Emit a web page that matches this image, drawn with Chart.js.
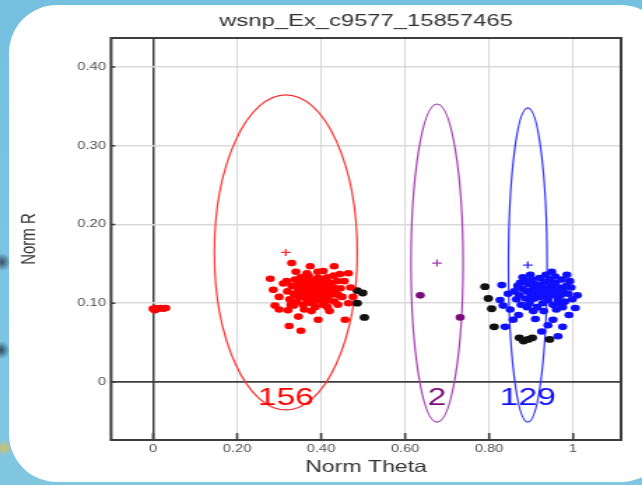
<!DOCTYPE html>
<html>
<head>
<meta charset="utf-8">
<title>wsnp_Ex_c9577_15857465</title>
<script src="https://cdn.jsdelivr.net/npm/chart.js@4.4.1/dist/chart.umd.min.js"></script>
<style>
    html, body { margin: 0; padding: 0; }
    body {
        width: 642px;
        height: 485px;
        overflow: hidden;
        position: relative;
        background:
            radial-gradient(circle at 2px 262px, #3b4f66 0, rgba(59,79,102,0) 9px),
            radial-gradient(circle at 1px 350px, #2f4a5e 0, rgba(47,74,94,0) 9px),
            radial-gradient(circle at 4px 448px, #d8c060 0, rgba(216,192,96,0) 8px),
            linear-gradient(180deg, #74c0de 0%, #7cc5e2 60%, #80c6e0 100%);
    }
    .panel {
        position: absolute;
        left: 9px;
        top: 5px;
        width: 660px;
        height: 477px;
        background: #fff;
        border-radius: 48px;
    }
    /* the picture is stretched sideways, so draw narrow and scale */
    .stretch {
        position: absolute;
        left: 0;
        top: 0;
        width: 459px;
        height: 485px;
        transform: scaleX(1.3987);
        transform-origin: 0 0;
    }
</style>
</head>
<body>
<div class="panel"></div>
<div class="stretch"><canvas id="gtPlot"></canvas></div>
<script>
// labels
const chartTitle = "wsnp_Ex_c9577_15857465";
const xTitle = "Norm Theta";
const yTitle = "Norm R";
const xTickValues = [0, 0.2, 0.4, 0.6, 0.8, 1];
const xTickLabels = ["0", "0.20", "0.40", "0.60", "0.80", "1"];
const yTickValues = [0, 0.1, 0.2, 0.3, 0.4];
const yTickLabels = ["0", "0.10", "0.20", "0.30", "0.40"];
const xRange = [-0.1, 1.114];
const yRange = [-0.0737, 0.4368];

// genotype clusters (AA, AB, BB)
const clusterCounts = ["156", "2", "129"];
const clusterMeanTheta = [0.316, 0.676, 0.892];
const clusterMeanR = [0.1645, 0.151, 0.1485];
const clusterSpreadTheta = [0.170, 0.062, 0.046];
const clusterSpreadR = [0.200, 0.202, 0.1995];
const countLabelR = -0.021;

// samples as [theta, R]
const aaPoints = [
    [0.000, 0.093], [0.006, 0.094], [0.012, 0.093], [0.018, 0.094], [0.024, 0.093], [0.030, 0.094], [0.004, 0.091],
    [0.330, 0.151], [0.374, 0.147], [0.431, 0.147], [0.465, 0.138], [0.279, 0.131], [0.286, 0.117], [0.290, 0.097],
    [0.321, 0.091], [0.346, 0.083], [0.393, 0.079], [0.457, 0.079], [0.324, 0.071], [0.352, 0.065], [0.455, 0.128],
    [0.470, 0.120], [0.476, 0.108], [0.300, 0.108], [0.310, 0.125], [0.340, 0.140], [0.405, 0.141], [0.445, 0.137],
    [0.300, 0.092], [0.335, 0.097], [0.420, 0.090], [0.440, 0.098], [0.465, 0.100],
    [0.320, 0.115], [0.325, 0.105], [0.330, 0.122], [0.335, 0.112], [0.338, 0.130], [0.342, 0.102], [0.345, 0.118],
    [0.348, 0.125], [0.350, 0.108], [0.352, 0.133], [0.355, 0.115], [0.357, 0.098], [0.360, 0.122], [0.362, 0.110],
    [0.364, 0.128], [0.366, 0.104], [0.368, 0.117], [0.370, 0.135], [0.372, 0.112], [0.374, 0.124], [0.376, 0.100],
    [0.378, 0.119], [0.380, 0.108], [0.382, 0.129], [0.384, 0.114], [0.386, 0.095], [0.388, 0.121], [0.390, 0.110],
    [0.392, 0.132], [0.394, 0.117], [0.396, 0.104], [0.398, 0.125], [0.400, 0.112], [0.402, 0.119], [0.404, 0.098],
    [0.406, 0.128], [0.408, 0.108], [0.410, 0.122], [0.412, 0.115], [0.415, 0.133], [0.418, 0.104], [0.420, 0.118],
    [0.423, 0.126], [0.426, 0.111], [0.429, 0.120], [0.432, 0.102], [0.435, 0.114], [0.438, 0.128], [0.442, 0.110],
    [0.446, 0.119], [0.450, 0.108], [0.340, 0.110], [0.358, 0.120], [0.372, 0.106], [0.385, 0.126], [0.397, 0.112],
    [0.409, 0.100], [0.366, 0.138], [0.392, 0.140], [0.377, 0.090], [0.360, 0.092], [0.415, 0.095], [0.430, 0.135],
    [0.328, 0.098], [0.318, 0.128], [0.350, 0.128], [0.383, 0.102], [0.401, 0.131], [0.367, 0.112], [0.389, 0.116]
];
const abPoints = [[0.636, 0.110], [0.731, 0.082]];
const bbPoints = [
    [0.830, 0.123], [0.826, 0.104], [0.833, 0.097], [0.857, 0.079], [0.838, 0.070], [0.925, 0.064], [0.964, 0.058],
    [0.952, 0.079], [1.005, 0.094], [0.985, 0.136], [0.949, 0.140], [0.898, 0.136], [0.874, 0.126], [0.845, 0.112],
    [0.850, 0.092], [1.010, 0.110], [0.995, 0.120], [0.990, 0.085], [0.870, 0.085], [0.910, 0.080], [0.940, 0.072],
    [0.975, 0.070],
    [0.860, 0.115], [0.865, 0.105], [0.868, 0.122], [0.872, 0.110], [0.876, 0.098], [0.880, 0.118], [0.884, 0.128],
    [0.887, 0.106], [0.890, 0.115], [0.893, 0.124], [0.896, 0.100], [0.899, 0.112], [0.902, 0.130], [0.905, 0.118],
    [0.908, 0.106], [0.911, 0.124], [0.914, 0.095], [0.917, 0.115], [0.920, 0.132], [0.922, 0.108], [0.925, 0.120],
    [0.928, 0.100], [0.931, 0.127], [0.934, 0.112], [0.937, 0.118], [0.940, 0.104], [0.943, 0.130], [0.946, 0.114],
    [0.949, 0.122], [0.952, 0.098], [0.955, 0.110], [0.958, 0.126], [0.961, 0.116], [0.964, 0.104], [0.967, 0.120],
    [0.970, 0.110], [0.973, 0.130], [0.976, 0.116], [0.980, 0.102], [0.984, 0.122], [0.988, 0.112], [0.992, 0.128],
    [0.915, 0.110], [0.926, 0.114], [0.938, 0.108], [0.950, 0.116], [0.930, 0.090], [0.960, 0.092], [0.905, 0.090],
    [0.890, 0.095], [0.945, 0.125], [0.918, 0.122], [0.957, 0.134], [0.935, 0.136], [0.880, 0.133], [0.965, 0.100],
    [0.900, 0.105], [0.910, 0.115], [0.975, 0.095], [0.998, 0.105]
];
const noCallPoints = [
    [0.486, 0.116], [0.499, 0.113], [0.486, 0.100], [0.503, 0.082],
    [0.790, 0.121], [0.798, 0.106], [0.806, 0.093], [0.812, 0.070],
    [0.872, 0.056], [0.882, 0.052], [0.893, 0.054], [0.903, 0.056], [0.944, 0.054]
];

// styles
const dotColors = ["#ff0000", "#7d0a7d", "#1010ff"];
const ringColors = ["#ff3030", "#a43cb2", "#3030ff"];
const noCallColor = "#111111";
const frameColor = "#3d3d3d";
const gridColor = "#d9d9d9";
const textColor = "#4d4d4d";
const fontFamily = "'Liberation Sans', Arial, sans-serif";

const toXY = (list) => list.map(p => ({ x: p[0], y: p[1] }));

const clusterRings = {
    id: "clusterRings",
    beforeDatasetsDraw(chart) {
        const { ctx, chartArea, scales: { x, y } } = chart;
        ctx.save();
        ctx.beginPath();
        ctx.rect(chartArea.left, chartArea.top, chartArea.right - chartArea.left, chartArea.bottom - chartArea.top);
        ctx.clip();
        clusterMeanTheta.forEach((theta, i) => {
            const cx = x.getPixelForValue(theta);
            const cy = y.getPixelForValue(clusterMeanR[i]);
            const rx = Math.abs(x.getPixelForValue(theta + clusterSpreadTheta[i]) - cx);
            const ry = Math.abs(y.getPixelForValue(clusterMeanR[i] + clusterSpreadR[i]) - cy);
            ctx.beginPath();
            ctx.ellipse(cx, cy, rx, ry, 0, 0, Math.PI * 2);
            ctx.strokeStyle = ringColors[i];
            ctx.lineWidth = 1.2;
            ctx.stroke();
        });
        ctx.restore();
    },
    afterDatasetsDraw(chart) {
        const { ctx, scales: { x, y } } = chart;
        ctx.save();
        ctx.font = "24px " + fontFamily;
        ctx.textAlign = "center";
        ctx.textBaseline = "middle";
        clusterCounts.forEach((count, i) => {
            ctx.fillStyle = dotColors[i];
            ctx.fillText(count, x.getPixelForValue(clusterMeanTheta[i]), y.getPixelForValue(countLabelR));
        });
        ctx.restore();
    }
};

const plotFrame = {
    id: "plotFrame",
    afterDraw(chart) {
        const { ctx, chartArea: a, scales: { x, y } } = chart;
        ctx.save();
        ctx.strokeStyle = frameColor;
        ctx.lineWidth = 1.6;
        // inward tick marks
        ctx.beginPath();
        xTickValues.forEach(v => {
            const px = x.getPixelForValue(v);
            ctx.moveTo(px, a.bottom);
            ctx.lineTo(px, a.bottom - 7);
        });
        yTickValues.forEach(v => {
            const py = y.getPixelForValue(v);
            ctx.moveTo(a.left, py);
            ctx.lineTo(a.left + 3, py);
        });
        ctx.stroke();
        ctx.lineWidth = 2;
        ctx.strokeRect(a.left, a.top, a.right - a.left, a.bottom - a.top);
        ctx.restore();
    }
};

Chart.defaults.font.family = fontFamily;

const gtChart = new Chart(
    document.getElementById("gtPlot"),
    {
        type: "scatter",
        data: {
            datasets: [
                {
                    label: "AA",
                    data: toXY(aaPoints),
                    backgroundColor: dotColors[0],
                    pointRadius: 3.3,
                    pointBorderWidth: 0
                },
                {
                    label: "AB",
                    data: toXY(abPoints),
                    backgroundColor: dotColors[1],
                    pointRadius: 3.3,
                    pointBorderWidth: 0
                },
                {
                    label: "BB",
                    data: toXY(bbPoints),
                    backgroundColor: dotColors[2],
                    pointRadius: 3.3,
                    pointBorderWidth: 0
                },
                {
                    label: "NC",
                    data: toXY(noCallPoints),
                    backgroundColor: noCallColor,
                    pointRadius: 3.4,
                    pointBorderWidth: 0
                },
                {
                    label: "Mean",
                    data: clusterMeanTheta.map((t, i) => ({ x: t, y: clusterMeanR[i] })),
                    pointStyle: "cross",
                    pointRadius: 3.5,
                    pointBorderWidth: 1.3,
                    pointBorderColor: ringColors
                }
            ]
        },
        options: {
            responsive: true,
            maintainAspectRatio: false,
            animation: false,
            events: [],
            layout: { padding: { left: 0, right: 15, top: 0, bottom: 0 } },
            plugins: {
                legend: { display: false },
                tooltip: { enabled: false },
                title: {
                    display: true,
                    text: chartTitle,
                    fullSize: false,
                    color: "#333333",
                    font: { size: 17, weight: "normal" },
                    padding: { top: 10.8, bottom: 6.8 }
                }
            },
            scales: {
                x: {
                    type: "linear",
                    min: xRange[0],
                    max: xRange[1],
                    afterBuildTicks: (scale) => { scale.ticks = xTickValues.map(v => ({ value: v })); },
                    afterFit: (scale) => { scale.height = 45; },
                    ticks: {
                        callback: (value, index) => xTickLabels[index],
                        color: textColor,
                        font: { size: 10.5 },
                        padding: 3,
                        maxRotation: 0
                    },
                    grid: {
                        drawTicks: false,
                        color: (c) => c.tick && c.tick.value === 0 ? frameColor : gridColor,
                        lineWidth: (c) => c.tick && c.tick.value === 0 ? 1.5 : 1.1
                    },
                    border: { display: false },
                    title: {
                        display: true,
                        text: xTitle,
                        color: "#333333",
                        font: { size: 16.5 },
                        padding: { top: 0, bottom: 8 }
                    }
                },
                y: {
                    type: "linear",
                    min: yRange[0],
                    max: yRange[1],
                    afterBuildTicks: (scale) => { scale.ticks = yTickValues.map(v => ({ value: v })); },
                    afterFit: (scale) => { scale.width = 79.4; },
                    ticks: {
                        callback: (value, index) => yTickLabels[index],
                        color: textColor,
                        font: { size: 10.5 },
                        padding: 3.6
                    },
                    grid: {
                        drawTicks: false,
                        color: (c) => c.tick && c.tick.value === 0 ? frameColor : gridColor,
                        lineWidth: (c) => c.tick && c.tick.value === 0 ? 1.8 : 1.6
                    },
                    border: { display: false },
                    title: {
                        display: true,
                        text: yTitle,
                        color: "#333333",
                        font: { size: 15 },
                        padding: { top: 12, bottom: 0 }
                    }
                }
            }
        },
        plugins: [clusterRings, plotFrame]
    }
);
</script>
</body>
</html>
